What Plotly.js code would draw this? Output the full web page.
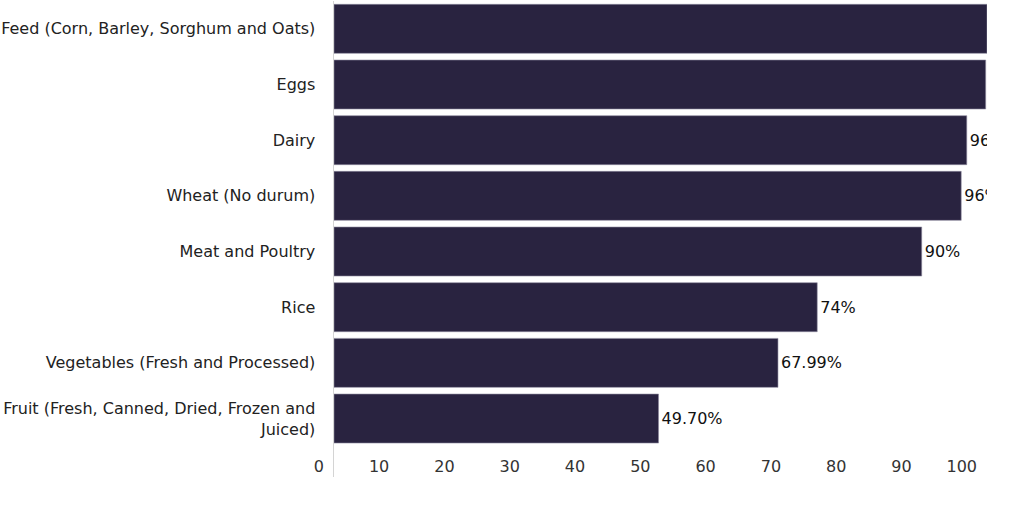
<!DOCTYPE html>
<html>
<head>
<meta charset="utf-8">
<script src="https://cdn.plot.ly/plotly-3.0.1.min.js"></script>
<style>html,body{margin:0;padding:0;background:#fff;}#chart{width:1024px;height:512px;}</style>
</head>
<body>
<div id="chart"></div>
<script>
const categories = [
  "Feed (Corn, Barley, Sorghum and Oats)",
  "Eggs",
  "Dairy",
  "Wheat (No durum)",
  "Meat and Poultry",
  "Rice",
  "Vegetables (Fresh and Processed)",
  "Fruit (Fresh, Canned, Dried, Frozen and<br>Juiced)"
];
const values = [100, 99.8, 96.9, 96.05, 90, 74, 67.99, 49.70];
const valueLabels = ["100%", "99.8%", "96.9%", "96%", "90%", "74%", "67.99%", "49.70%"];
const xTickValues = [0, 10, 20, 30, 40, 50, 60, 70, 80, 90, 100];

const FONT = "DejaVu Sans, Verdana, sans-serif";

const trace = {
  type: "bar",
  orientation: "h",
  x: values,
  y: categories,
  text: valueLabels,
  textposition: "outside",
  cliponaxis: true,
  textfont: {family: FONT, size: 16, color: "#111"},
  marker: {color: "#292340", line: {color: "#8d8a9e", width: 0.6}},
  hoverinfo: "none"
};

const layout = {
  width: 1024,
  height: 512,
  margin: {l: 334, r: 37, t: 1, b: 35, pad: 0},
  paper_bgcolor: "#fff",
  plot_bgcolor: "#fff",
  showlegend: false,
  bargap: 0.12,
  font: {family: FONT, size: 16, color: "#222"},
  xaxis: {
    range: [0, 100],
    tickvals: xTickValues,
    ticktext: xTickValues.map(String),
    showgrid: false,
    zeroline: false,
    showline: false,
    ticks: "",
    ticklabelposition: "outside left",
    ticklabelshift: -10,
    ticklabelstandoff: -22,
    tickfont: {family: FONT, size: 16, color: "#333"}
  },
  yaxis: {
    type: "category",
    range: [8.05, -0.5],
    showgrid: false,
    zeroline: false,
    showline: true,
    linecolor: "#d4d4d4",
    linewidth: 1.5,
    ticks: "outside",
    ticklen: 14,
    tickcolor: "rgba(0,0,0,0)",
    tickfont: {family: FONT, size: 16, color: "#222"}
  }
};

Plotly.newPlot("chart", [trace], layout, {displayModeBar: false, staticPlot: true});
</script>
</body>
</html>
